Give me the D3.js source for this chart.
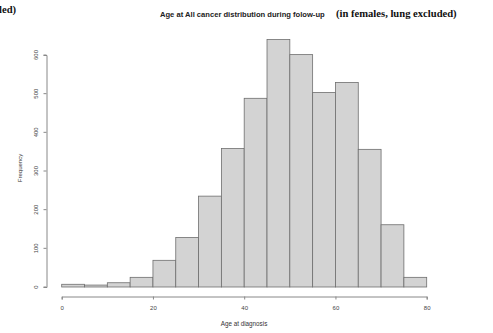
<!DOCTYPE html>
<html><head><meta charset="utf-8">
<script src="https://cdn.jsdelivr.net/npm/d3@7"></script>
<style>body{margin:0;background:#fff}svg{display:block}</style>
</head><body>
<script>
const binStarts = [0,5,10,15,20,25,30,35,40,45,50,55,60,65,70,75];
const binWidth = 5;
const counts = [7,5,11,25,69,128,235,358,488,640,601,503,529,356,161,25];
const xTicks = [0,20,40,60,80];
const yTicks = [0,100,200,300,400,500,600];

const W=493,H=333;
const svg=d3.select("body").append("svg").attr("width",W).attr("height",H);
const x=d3.scaleLinear().domain([0,80]).range([61.7,426.7]);
const y=d3.scaleLinear().domain([0,600]).range([287,55]);
const axisCol="#888";

svg.append("g").selectAll("rect").data(binStarts).join("rect")
  .attr("x",(d)=>x(d)).attr("width",(d)=>x(d+binWidth)-x(d))
  .attr("y",(d,i)=>y(counts[i])).attr("height",(d,i)=>y(0)-y(counts[i]))
  .attr("fill","#d3d3d3").attr("stroke","#6e6e6e").attr("stroke-width",0.8);

const xa=svg.append("g").attr("transform","translate(0,296.5)")
  .call(d3.axisBottom(x).tickValues(xTicks).tickSize(3).tickPadding(6));
const ya=svg.append("g").attr("transform","translate(46.5,0)")
  .call(d3.axisLeft(y).tickValues(yTicks).tickSize(3).tickPadding(4));
[xa,ya].forEach(g=>{
  g.select(".domain").attr("stroke",axisCol);
  g.selectAll(".tick line").attr("stroke",axisCol);
  g.selectAll("text").attr("fill","#444").style("font-family","Liberation Sans, Arial, sans-serif").style("font-size","6px");
});
ya.selectAll(".tick text").attr("text-anchor","middle").attr("dy",null)
  .attr("transform",function(d){return `translate(${-9},${y(d)}) rotate(-90)`;}).attr("x",0).attr("y",0);
ya.selectAll(".tick").attr("transform",null);
ya.selectAll(".tick line").attr("transform",d=>`translate(0,${y(d)})`);

svg.append("text").attr("x",244).attr("y",326).attr("text-anchor","middle")
  .style("font-family","Liberation Sans, Arial, sans-serif").style("font-size","6.3px").attr("fill","#333")
  .text("Age at diagnosis");
svg.append("text").attr("transform","translate(22,168) rotate(-90)").attr("text-anchor","middle")
  .style("font-family","Liberation Sans, Arial, sans-serif").style("font-size","6px").attr("fill","#333")
  .text("Frequency");

svg.append("text").attr("x",160).attr("y",16.5)
  .style("font-family","Liberation Sans, Arial, sans-serif").style("font-size","7.6px").style("font-weight","bold").attr("fill","#222")
  .text("Age at All cancer distribution during folow-up");
svg.append("text").attr("x",336).attr("y",16.5)
  .style("font-family","Liberation Serif, Times New Roman, serif").style("font-size","10.6px").style("font-weight","bold").attr("fill","#111")
  .text("(in females, lung excluded)");
svg.append("text").attr("x",-1).attr("y",13)
  .style("font-family","Liberation Serif, Times New Roman, serif").style("font-size","10.6px").style("font-weight","bold").attr("fill","#111")
  .text("led)");
</script>
</body></html>
